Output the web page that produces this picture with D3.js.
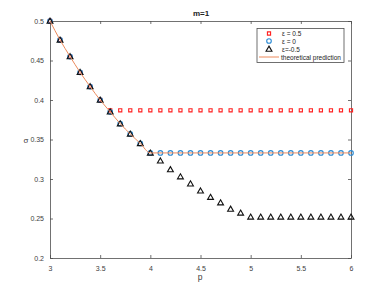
<!DOCTYPE html>
<html><head><meta charset="utf-8">
<script src="https://cdn.jsdelivr.net/npm/d3@7"></script>
<style>body{margin:0;background:#fff}svg{display:block}text{font-family:"Liberation Sans",Arial,sans-serif}</style>
</head><body><svg id="c" width="388" height="291"></svg>
<script>
const pVals = [3.0,3.1,3.2,3.3,3.4,3.5,3.6,3.7,3.8,3.9,4.0,4.1,4.2,4.3,4.4,4.5,4.6,4.7,4.8,4.9,5.0,5.1,5.2,5.3,5.4,5.5,5.6,5.7,5.8,5.9,6.0];
const epsPos = [0.5,0.476,0.455,0.435,0.417,0.4,0.387,0.387,0.387,0.387,0.387,0.387,0.387,0.387,0.387,0.387,0.387,0.387,0.387,0.387,0.387,0.387,0.387,0.387,0.387,0.387,0.387,0.387,0.387,0.387,0.387];
const epsZero = [0.5,0.476,0.455,0.435,0.417,0.4,0.385,0.370,0.357,0.345,0.333,0.333,0.333,0.333,0.333,0.333,0.333,0.333,0.333,0.333,0.333,0.333,0.333,0.333,0.333,0.333,0.333,0.333,0.333,0.333,0.333];
const epsNeg = [0.5,0.476,0.455,0.435,0.417,0.4,0.385,0.370,0.357,0.345,0.333,0.323,0.312,0.303,0.294,0.285,0.277,0.270,0.262,0.257,0.252,0.252,0.252,0.252,0.252,0.252,0.252,0.252,0.252,0.252,0.252];
const theoryP = [3.0,3.1,3.2,3.3,3.4,3.5,3.6,3.7,3.8,3.9,4.0,6.0];
const theoryS = [0.5,0.476,0.455,0.435,0.417,0.4,0.385,0.370,0.357,0.345,0.333,0.333];
const xTicks = [3,3.5,4,4.5,5,5.5,6];
const yTicks = [0.2,0.25,0.3,0.35,0.4,0.45,0.5];
const legendLabels = ["\u03B5 = 0.5","\u03B5 = 0","\u03B5=-0.5","theoretical prediction"];

const svg = d3.select("#c");
const L=50,R=351,T=21,B=258;
const x = d3.scaleLinear().domain([3,6]).range([L,R]);
const y = d3.scaleLinear().domain([0.2,0.5]).range([B,T]);
const axCol="#4d4d4d";
const g = svg.append("g");
const fmt = d => String(d);
const xa = g.append("g").attr("transform",`translate(0,${B})`).call(d3.axisBottom(x).tickValues(xTicks).tickFormat(fmt).tickSizeInner(-3).tickSizeOuter(0).tickPadding(8));
const xt = g.append("g").attr("transform",`translate(0,${T})`).call(d3.axisTop(x).tickValues(xTicks).tickFormat("").tickSizeInner(-3).tickSizeOuter(0));
const ya = g.append("g").attr("transform",`translate(${L},0)`).call(d3.axisLeft(y).tickValues(yTicks).tickFormat(fmt).tickSizeInner(-3).tickSizeOuter(0).tickPadding(6));
const yr = g.append("g").attr("transform",`translate(${R},0)`).call(d3.axisRight(y).tickValues(yTicks).tickFormat("").tickSizeInner(-3).tickSizeOuter(0));
[xa,xt,ya,yr].forEach(a=>{a.selectAll("path,line").attr("stroke",axCol).attr("stroke-width",0.8);a.selectAll("text").attr("fill","#404040").attr("font-size",7).attr("font-family","Liberation Sans, Arial, sans-serif");});
svg.append("text").attr("x",201).attr("y",16).attr("text-anchor","middle").attr("font-size",8).attr("font-weight","bold").attr("fill","#222").text("m=1");
svg.append("text").attr("x",200).attr("y",280).attr("text-anchor","middle").attr("font-size",8.5).attr("fill","#404040").text("p");
svg.append("text").attr("x",26).attr("y",142.5).attr("text-anchor","middle").attr("font-size",8).attr("fill","#404040").text("\u03C3");

const red="#ff2020", blue="#2a8ad4", orange="#ec8a5c";
const sq = d3.symbol().type(d3.symbolSquare).size(10);
const tri = d3.symbol().type(d3.symbolTriangle).size(15);
g.selectAll(".s").data(pVals.map((p,i)=>[p,epsPos[i]])).join("path").attr("d",sq)
 .attr("transform",d=>`translate(${x(d[0])},${y(d[1])})`).attr("fill","none").attr("stroke",red).attr("stroke-width",1.1);
g.selectAll(".c").data(pVals.map((p,i)=>[p,epsZero[i]])).join("circle").attr("cx",d=>x(d[0])).attr("cy",d=>y(d[1])).attr("r",2.3)
 .attr("fill","none").attr("stroke",blue).attr("stroke-width",1.1);
g.selectAll(".t").data(pVals.map((p,i)=>[p,epsNeg[i]])).join("path").attr("d",tri)
 .attr("transform",d=>`translate(${x(d[0])},${y(d[1])+0.5})`).attr("fill","none").attr("stroke","#111").attr("stroke-width",1.1);
g.append("path").datum(theoryP.map((p,i)=>[p,theoryS[i]])).attr("d",d3.line().x(d=>x(d[0])).y(d=>y(d[1])).curve(d3.curveMonotoneX))
 .attr("fill","none").attr("stroke",orange).attr("stroke-width",1);

const lg = svg.append("g");
lg.append("rect").attr("x",257).attr("y",28.5).attr("width",87).attr("height",34).attr("fill","#fff").attr("stroke",axCol).attr("stroke-width",0.8);
const ly=[33.5,41,49,57];
lg.append("path").attr("d",sq).attr("transform",`translate(269,${ly[0]})`).attr("fill","none").attr("stroke",red).attr("stroke-width",1.1);
lg.append("circle").attr("cx",269).attr("cy",ly[1]).attr("r",2.3).attr("fill","none").attr("stroke",blue).attr("stroke-width",1.1);
lg.append("path").attr("d",tri).attr("transform",`translate(269,${ly[2]+0.5})`).attr("fill","none").attr("stroke","#111").attr("stroke-width",1.1);
lg.append("line").attr("x1",259).attr("x2",279).attr("y1",ly[3]).attr("y2",ly[3]).attr("stroke",orange).attr("stroke-width",1);
legendLabels.forEach((t,i)=>{
  lg.append("text").attr("x",i<3?282:281).attr("y",ly[i]+2.5).attr("font-size",6.5).attr("fill","#222").text(t);
});
</script></body></html>
